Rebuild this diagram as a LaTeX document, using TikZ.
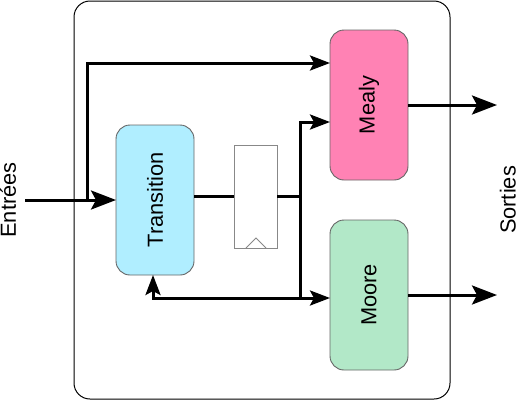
\documentclass[tikz,border=0pt]{standalone}
\usepackage{fontspec}
\setmainfont{Liberation Sans}
\usepackage{graphicx}
\usetikzlibrary{arrows.meta}
\definecolor{transfill}{HTML}{B0EEFF}
\definecolor{mealyfill}{HTML}{FF82B4}
\definecolor{moorefill}{HTML}{B2E8C8}
\definecolor{boxgray}{HTML}{666666}
\definecolor{reggray}{HTML}{888888}
\begin{document}
\begin{tikzpicture}[x=1pt,y=-1pt,
  txt/.style={font=\fontsize{21.8}{24}\selectfont},
  block/.style={txt, draw=boxgray, line width=0.9pt, rounded corners=14pt,
    minimum width=78pt, minimum height=150pt, inner sep=0pt, outer sep=0pt},
  regbox/.style={draw=reggray, fill=white, line width=0.9pt,
    minimum width=43pt, minimum height=103pt, inner sep=0pt, outer sep=0pt},
  framebox/.style={draw=black, line width=1pt, rounded corners=16pt,
    minimum width=376pt, minimum height=398pt, inner sep=0pt, outer sep=0pt},
  lbl/.style={txt, rotate=90, anchor=base, inner sep=0pt},
  wire/.style={line width=3pt},
  arr/.style={wire, -{Stealth[length=20pt,width=15pt,inset=4pt]}},
  bigarr/.style={wire, -{Stealth[length=25pt,width=19pt,inset=5pt]}}]
\useasboundingbox (0,0) rectangle (519,400);
% frame
\node[framebox] (frame) at (262,200) {};
% blocks
\node[block, fill=transfill] (trans) at (155,200) {\rotatebox{90}{Transition}};
\node[regbox] (reg) at (255.5,196.5) {};
\draw[reggray, line width=0.8pt] (246,248) -- (256,238) -- (266,248);
\node[block, fill=mealyfill] (mealy) at (369,105) {\rotatebox{90}{Mealy}};
\node[block, fill=moorefill] (moore) at (369,295) {\rotatebox{90}{Moore}};
% labels
\node[lbl] (ent) at (16,200) {Entrées};
\node[lbl] (sor) at (515.5,200) {Sorties};
% coordinates
\coordinate (in) at (25,200);
\coordinate (b1) at (87,200);
\coordinate (b2) at (87,63);
\coordinate (j1) at (300,196.5);
\coordinate (j2) at (300,122);
\coordinate (j3) at (300,298);
\coordinate (j4) at (153,298);
\coordinate (o1) at (497,105);
\coordinate (o2) at (497,295);
% wires
\draw[bigarr] (in) -- (trans.west);
\draw[arr] (b1) -- (b2) -- (b2 -| mealy.west);
\draw[wire] (trans.east |- reg.west) -- (reg.west);
\draw[wire] (reg.east) -- (j1);
\draw[arr] (j1) -- (j2) -- (j2 -| mealy.west);
\draw[wire] (j1) -- (j3);
\draw[arr] (j3) -- (j3 -| moore.west);
\draw[arr] (j3) -- (j4) -- (j4 |- trans.south);
\draw[bigarr] (mealy.east) -- (o1);
\draw[bigarr] (moore.east) -- (o2);
\end{tikzpicture}
\end{document}
